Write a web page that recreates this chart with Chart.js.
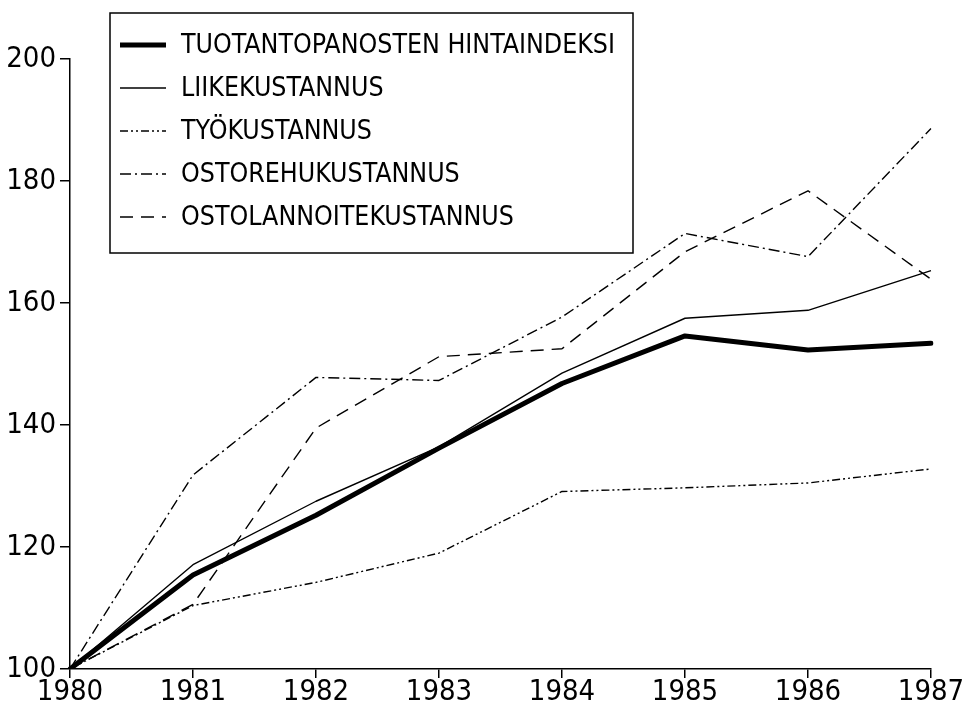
<!DOCTYPE html>
<html>
<head>
<meta charset="utf-8">
<script src="https://cdn.jsdelivr.net/npm/chart.js@4/dist/chart.umd.min.js"></script>
<style>
  html, body { margin: 0; padding: 0; background: #fff; }
  canvas { display: block; }
</style>
</head>
<body>
<canvas id="c" width="964" height="707"></canvas>
<script>
const years = ['1980', '1981', '1982', '1983', '1984', '1985', '1986', '1987'];
const seriesLabels = [
  'TUOTANTOPANOSTEN HINTAINDEKSI',
  'LIIKEKUSTANNUS',
  'TYÖKUSTANNUS',
  'OSTOREHUKUSTANNUS',
  'OSTOLANNOITEKUSTANNUS'
];
const hintaindeksi = [100, 115.4, 125.2, 136.2, 146.8, 154.6, 152.3, 153.4];
const liikekustannus = [100, 117.1, 127.5, 136.4, 148.5, 157.5, 158.8, 165.3];
const tyokustannus = [100, 110.4, 114.2, 119.0, 129.1, 129.7, 130.5, 132.8];
const ostorehukustannus = [100, 131.8, 147.8, 147.3, 157.7, 171.4, 167.6, 188.6];
const ostolannoitekustannus = [100, 110.6, 139.5, 151.2, 152.5, 168.4, 178.4, 163.9];
const yTicks = [100, 120, 140, 160, 180, 200];

const FONT = '"DejaVu Sans Condensed", "Liberation Sans Narrow", "Liberation Sans", sans-serif';

const styles = [
  { borderWidth: 5, borderDash: [] },
  { borderWidth: 1.4, borderDash: [] },
  { borderWidth: 1.4, borderDash: [8, 3, 2, 3, 2, 3] },
  { borderWidth: 1.4, borderDash: [11, 4, 2, 4] },
  { borderWidth: 1.4, borderDash: [13, 8] }
];
const values = [hintaindeksi, liikekustannus, tyokustannus, ostorehukustannus, ostolannoitekustannus];

const datasets = values.map((v, i) => ({
  label: seriesLabels[i],
  data: v,
  borderColor: '#000',
  backgroundColor: '#000',
  borderWidth: styles[i].borderWidth,
  borderDash: styles[i].borderDash,
  borderJoinStyle: 'round',
  borderCapStyle: i === 0 ? 'round' : 'butt',
  pointRadius: 0,
  tension: 0,
  fill: false
}));

const boxLegend = {
  id: 'boxLegend',
  afterDraw(chart) {
    const ctx = chart.ctx;
    ctx.save();
    const bx = 110, by = 13, bw = 523, bh = 240;
    ctx.fillStyle = '#fff';
    ctx.fillRect(bx, by, bw, bh);
    ctx.strokeStyle = '#000';
    ctx.lineWidth = 1.5;
    ctx.setLineDash([]);
    ctx.strokeRect(bx, by, bw, bh);
    ctx.font = '27px ' + FONT;
    const sx = Math.min(1.15, 434 / ctx.measureText(chart.data.datasets[0].label).width);
    chart.data.datasets.forEach((ds, i) => {
      const y = 45 + i * 43;
      ctx.beginPath();
      ctx.lineWidth = ds.borderWidth;
      ctx.setLineDash(ds.borderDash || []);
      ctx.lineCap = 'butt';
      ctx.moveTo(120, y);
      ctx.lineTo(166, y);
      ctx.stroke();
      ctx.setLineDash([]);
      ctx.fillStyle = '#000';
      ctx.textBaseline = 'middle';
      ctx.textAlign = 'left';
      ctx.save();
      ctx.translate(181, y + 1);
      ctx.scale(sx, 1);
      ctx.fillText(ds.label, 0, 0);
      ctx.restore();
    });
    ctx.restore();
  }
};

new Chart(document.getElementById('c'), {
  type: 'line',
  data: { labels: years, datasets },
  options: {
    responsive: false,
    animation: false,
    layout: { padding: { top: 59, right: 33, left: 0, bottom: 0 } },
    plugins: { legend: { display: false }, tooltip: { enabled: false } },
    scales: {
      x: {
        offset: false,
        grid: { display: true, drawOnChartArea: false, drawTicks: true, tickLength: 9, color: '#000', lineWidth: 1.5 },
        border: { display: true, color: '#000', width: 1.5 },
        ticks: { color: '#000', font: { family: FONT, size: 29 }, padding: -3, maxRotation: 0, autoSkip: false },
        afterFit(s) { s.height = 38; }
      },
      y: {
        min: 100, max: 200,
        afterBuildTicks(s) { s.ticks = yTicks.map(v => ({ value: v })); },
        grid: { display: true, drawOnChartArea: false, drawTicks: true, tickLength: 10, color: '#000', lineWidth: 1.5 },
        border: { display: true, color: '#000', width: 1.5 },
        ticks: { color: '#000', font: { family: FONT, size: 29 }, padding: 4 },
        afterFit(s) { s.width = 70; }
      }
    }
  },
  plugins: [boxLegend]
});
</script>
</body>
</html>
